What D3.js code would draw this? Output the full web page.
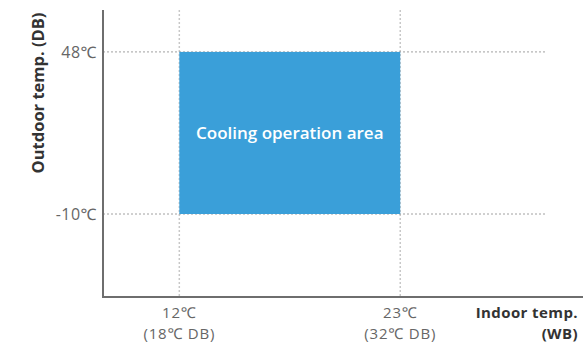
<!DOCTYPE html>
<html>
<head>
<meta charset="utf-8">
<script src="https://cdn.jsdelivr.net/npm/d3@7"></script>
<style>
  body { margin: 0; background: #fff; }
  text { font-family: "Open Sans", "Noto Sans", sans-serif; }
</style>
</head>
<body>
<div id="chart"></div>
<script>
const width = 583;
const height = 349;
const marginLeft = 103;
const marginRight = 2;
const marginTop = 10;
const marginBottom = 52;

// indoor temp (WB) limits, with DB equivalents
const indoorWB = [12, 23];
const indoorDB = [18, 32];
// outdoor temp (DB) limits
const outdoorDB = [-10, 48];
const areaLabel = "Cooling operation area";

var svg = d3.select("#chart").append("svg")
    .attr("width", width)
    .attr("height", height);

const x = d3.scaleLinear()
    .domain([8.2, 32])
    .range([marginLeft, width - marginRight]);

const y = d3.scaleLinear()
    .domain([-39.7, 63])
    .range([height - marginBottom, marginTop]);

// grid lines
svg.selectAll(".vgrid")
    .data(indoorWB)
    .enter().append("line")
    .attr("class", "vgrid")
    .attr("x1", d => x(d)).attr("x2", d => x(d))
    .attr("y1", marginTop).attr("y2", height - marginBottom)
    .style("stroke", "#c8c8c8")
    .style("stroke-width", 1.5)
    .style("stroke-dasharray", "2,2");

svg.selectAll(".hgrid")
    .data(outdoorDB)
    .enter().append("line")
    .attr("class", "hgrid")
    .attr("x1", marginLeft).attr("x2", 545)
    .attr("y1", d => y(d)).attr("y2", d => y(d))
    .style("stroke", "#a0a0a0")
    .style("stroke-width", 1)
    .style("stroke-dasharray", "2,2");

// operation area
svg.append("rect")
    .attr("x", x(indoorWB[0]))
    .attr("y", y(outdoorDB[1]))
    .attr("width", x(indoorWB[1]) - x(indoorWB[0]))
    .attr("height", y(outdoorDB[0]) - y(outdoorDB[1]))
    .attr("fill", "#3a9fd9");

svg.append("text")
    .attr("x", (x(indoorWB[0]) + x(indoorWB[1])) / 2)
    .attr("y", (y(outdoorDB[0]) + y(outdoorDB[1])) / 2)
    .attr("dy", "0.35em")
    .text(areaLabel)
    .style("fill", "#fff")
    .style("font-size", "17px")
    .style("font-weight", "600")
    .style("text-anchor", "middle");

// axes
svg.append("path")
    .attr("d", `M${marginLeft},${marginTop}V${height - marginBottom}H${width}`)
    .style("fill", "none")
    .style("stroke", "#6e6e6e")
    .style("stroke-width", 2);

svg.selectAll(".ytick")
    .data(outdoorDB)
    .enter().append("text")
    .attr("class", "ytick")
    .attr("x", marginLeft - 6)
    .attr("y", d => y(d))
    .attr("dy", "0.35em")
    .text(d => d + "℃")
    .style("fill", "#666")
    .style("font-size", "16px")
    .style("letter-spacing", "0.5px")
    .style("text-anchor", "end");

const xt = svg.selectAll(".xtick")
    .data(indoorWB)
    .enter().append("text")
    .attr("class", "xtick")
    .attr("x", d => x(d))
    .attr("y", 318)
    .style("fill", "#666")
    .style("font-size", "15px")
    .style("letter-spacing", "0.8px")
    .style("text-anchor", "middle");
xt.append("tspan").text(d => d + "℃");
xt.append("tspan")
    .attr("x", d => x(d))
    .attr("dy", 21)
    .text((d, i) => "(" + indoorDB[i] + "℃ DB)");

const xl = svg.append("text")
    .attr("x", 578)
    .attr("y", 318)
    .style("fill", "#333")
    .style("font-size", "15px")
    .style("letter-spacing", "0.4px")
    .style("font-weight", "bold")
    .style("text-anchor", "end");
xl.append("tspan").text("Indoor temp.");
xl.append("tspan").attr("x", 578).attr("dy", 21).text("(WB)");

svg.append("text")
    .attr("transform", "rotate(-90)")
    .attr("x", -93)
    .attr("y", 44)
    .text("Outdoor temp. (DB)")
    .style("fill", "#333")
    .style("font-size", "16.5px")
    .style("font-weight", "bold")
    .style("text-anchor", "middle");
</script>
</body>
</html>
